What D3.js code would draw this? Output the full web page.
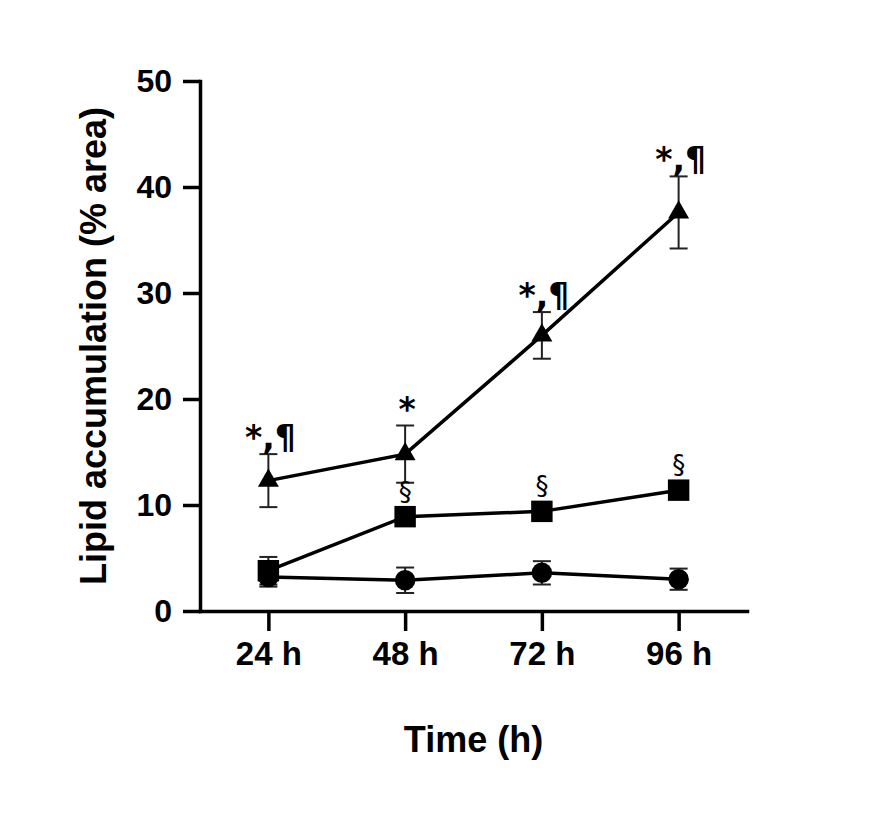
<!DOCTYPE html>
<html>
<head>
<meta charset="utf-8">
<script src="https://cdn.jsdelivr.net/npm/d3@7"></script>
<style>
  body { margin: 0; background: #fff; }
  .axis path, .axis line { stroke: #000; stroke-width: 3.5; }
  .axis text { font-family: "Liberation Sans", Arial, sans-serif; font-weight: bold; fill: #000; }
</style>
</head>
<body>
<svg id="chart" width="894" height="833"></svg>
<script>
const width = 894;
const height = 833;

// data
const timeLabels = ["24 h", "48 h", "72 h", "96 h"];
const circleMeans = [3.2, 2.9, 3.6, 3.0];
const circleErrors = [0.9, 1.2, 1.1, 1.0];
const squareMeans = [3.8, 8.9, 9.4, 11.4];
const squareErrors = [1.3, 0.6, 0.5, 0.5];
const triangleMeans = [12.3, 14.8, 26.0, 37.6];
const triangleErrors = [2.5, 2.7, 2.2, 3.4];
const triangleMarks = ["*,¶", "*", "*,¶", "*,¶"];
const squareMarks = ["", "§", "§", "§"];
const yTicks = [0, 10, 20, 30, 40, 50];

const plotLeft = 200, plotRight = 747, plotTop = 81, plotBottom = 611;

const svg = d3.select("#chart");

const xScale = d3.scalePoint()
  .domain(timeLabels)
  .range([plotLeft, plotRight])
  .padding(0.5);

const yScale = d3.scaleLinear()
  .domain([0, 50])
  .range([plotBottom, plotTop]);

const series = [
  { means: circleMeans, errors: circleErrors, symbol: d3.symbolCircle, size: 330 },
  { means: squareMeans, errors: squareErrors, symbol: d3.symbolSquare, size: 460 },
  { means: triangleMeans, errors: triangleErrors, symbol: d3.symbolTriangle, size: 190 }
];

// Axes
svg.append("g")
  .attr("class", "axis")
  .attr("transform", `translate(0, ${plotBottom})`)
  .call(d3.axisBottom(xScale).tickSize(20).tickSizeOuter(0).tickPadding(11))
  .call(g => g.selectAll("text").style("font-size", "33px"));

svg.append("g")
  .attr("class", "axis")
  .attr("transform", `translate(${plotLeft}, 0)`)
  .call(d3.axisLeft(yScale).tickValues(yTicks).tickSize(17).tickSizeOuter(0).tickPadding(11))
  .call(g => g.selectAll("text").style("font-size", "32px"));

svg.selectAll(".axis path").attr("stroke-linecap", "square");

// Axis titles
svg.append("text")
  .attr("x", (plotLeft + plotRight) / 2)
  .attr("y", 752)
  .attr("text-anchor", "middle")
  .style("font-family", "Liberation Sans, Arial, sans-serif")
  .style("font-weight", "bold")
  .style("font-size", "36px")
  .text("Time (h)");

svg.append("text")
  .attr("transform", `translate(106, ${(plotTop + plotBottom) / 2}) rotate(-90)`)
  .attr("text-anchor", "middle")
  .style("font-family", "Liberation Sans, Arial, sans-serif")
  .style("font-weight", "bold")
  .style("font-size", "36px")
  .text("Lipid accumulation (% area)");

// Error bars
series.forEach(s => {
  const g = svg.append("g").attr("stroke", "#222").attr("stroke-width", 2);
  timeLabels.forEach((t, i) => {
    const x = xScale(t);
    const y1 = yScale(s.means[i] + s.errors[i]);
    const y2 = yScale(s.means[i] - s.errors[i]);
    g.append("line").attr("x1", x).attr("x2", x).attr("y1", y1).attr("y2", y2);
    g.append("line").attr("x1", x - 9).attr("x2", x + 9).attr("y1", y1).attr("y2", y1);
    g.append("line").attr("x1", x - 9).attr("x2", x + 9).attr("y1", y2).attr("y2", y2);
  });
});

// Lines
const line = d3.line()
  .x((d, i) => xScale(timeLabels[i]))
  .y(d => yScale(d));

series.forEach(s => {
  svg.append("path")
    .datum(s.means)
    .attr("fill", "none")
    .attr("stroke", "#000")
    .attr("stroke-width", 3.5)
    .attr("d", line);
});

// Markers
series.forEach(s => {
  svg.append("g")
    .selectAll("path")
    .data(s.means)
    .enter()
    .append("path")
    .attr("transform", (d, i) => `translate(${xScale(timeLabels[i])}, ${yScale(d)})`)
    .attr("d", d3.symbol().type(s.symbol).size(s.size))
    .attr("fill", "#000");
});

// Significance marks
svg.append("g")
  .selectAll("text")
  .data(triangleMarks)
  .enter()
  .append("text")
  .attr("x", (d, i) => xScale(timeLabels[i]) + 2)
  .attr("y", (d, i) => yScale(triangleMeans[i] + triangleErrors[i]) - 5)
  .attr("text-anchor", "middle")
  .style("font-family", "DejaVu Sans, sans-serif")
  .style("font-weight", "bold")
  .style("font-size", "33px")
  .text(d => d);

svg.append("g")
  .selectAll("text")
  .data(squareMarks)
  .enter()
  .append("text")
  .attr("x", (d, i) => xScale(timeLabels[i]))
  .attr("y", (d, i) => yScale(squareMeans[i]) - 16)
  .attr("text-anchor", "middle")
  .style("font-family", "DejaVu Sans, sans-serif")
  .style("font-size", "26px")
  .text(d => d);
</script>
</body>
</html>
